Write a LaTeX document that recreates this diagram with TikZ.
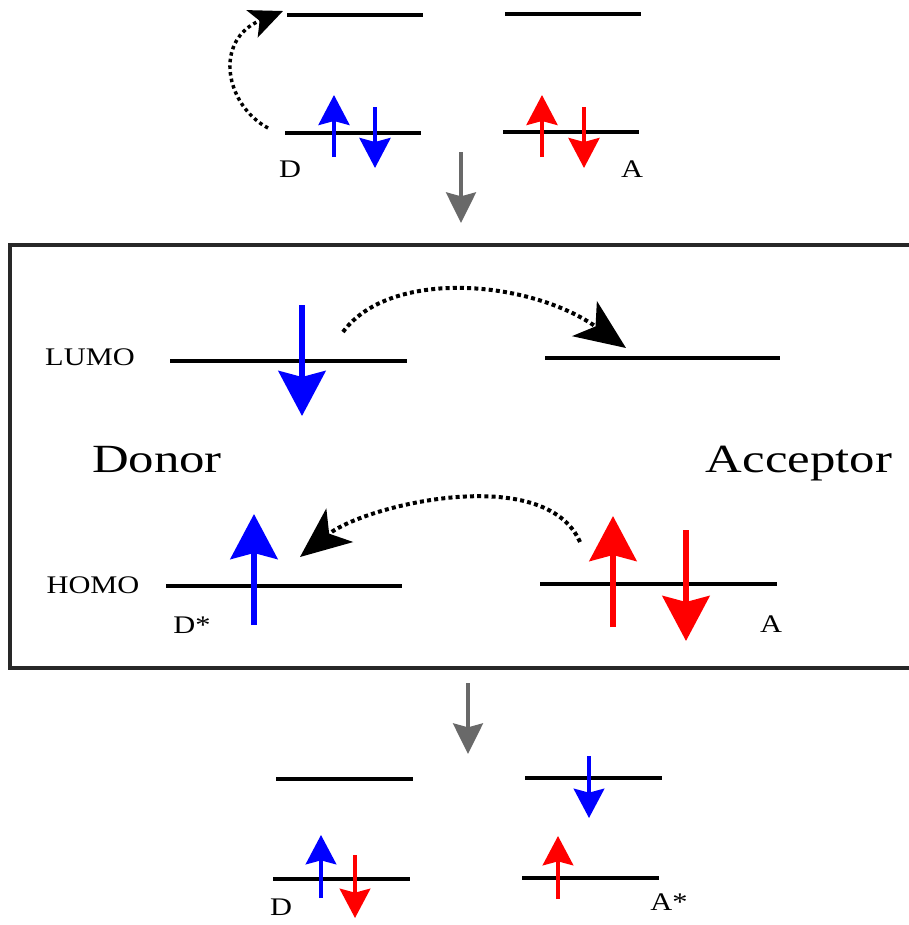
\documentclass[tikz,border=0pt]{standalone}
\usepackage{fontspec}
\setmainfont{Liberation Serif}
\usepackage{graphicx}
\usetikzlibrary{arrows.meta}
\definecolor{myblue}{RGB}{0,0,255}
\definecolor{myred}{RGB}{255,0,0}
\definecolor{mygray}{RGB}{105,105,105}
\definecolor{boxgray}{RGB}{40,40,40}
\tikzset{
  level/.style={line width=2.4pt, black},
  biglevel/.style={line width=3pt, black},
  smallspin/.style={line width=3pt, -{Stealth[length=22.5pt, width=23.25pt, inset=3pt]}},
  thinspin/.style={line width=2.4pt, -{Stealth[length=22pt, width=23pt, inset=3pt]}},
  bigspin/.style={line width=4.5pt, -{Stealth[length=33.75pt, width=35.25pt, inset=4.5pt]}},
  steparrow/.style={mygray, line width=2.4pt, -{Stealth[length=23pt, width=22.5pt, inset=3pt]}},
  hop/.style={line width=3pt, dash pattern=on 3pt off 2.4pt, -{Stealth[length=38pt, width=32pt, inset=10pt]}},
  smallhop/.style={line width=2.6pt, dash pattern=on 2.6pt off 2.4pt, -{Stealth[length=25pt, width=22pt, inset=6pt]}},
  lab/.style={inner sep=0pt, anchor=base, font=\fontsize{19pt}{22pt}\selectfont},
  big/.style={inner sep=0pt, anchor=base, font=\fontsize{30pt}{34pt}\selectfont}
}
\begin{document}
\begin{tikzpicture}[x=0.75pt, y=-0.75pt]
\useasboundingbox (0,0) rectangle (908,925);

% ---------- top section ----------
\coordinate (tLa1) at (287,15);  \coordinate (tLa2) at (423,15);
\coordinate (tLb1) at (505,14);  \coordinate (tLb2) at (641,14);
\coordinate (tHa1) at (285,133); \coordinate (tHa2) at (421,133);
\coordinate (tHb1) at (503,132); \coordinate (tHb2) at (639,132);
\draw[level] (tLa1) -- (tLa2);
\draw[level] (tLb1) -- (tLb2);
\draw[level] (tHa1) -- (tHa2);
\draw[level] (tHb1) -- (tHb2);

\coordinate (tbu1) at (334,157); \coordinate (tbu2) at (334,95);
\coordinate (tbd1) at (375,107); \coordinate (tbd2) at (375,168);
\coordinate (tru1) at (542,157); \coordinate (tru2) at (542,95);
\coordinate (trd1) at (584,107); \coordinate (trd2) at (584,168);
\draw[smallspin, myblue] (tbu1) -- (tbu2);
\draw[smallspin, myblue] (tbd1) -- (tbd2);
\draw[smallspin, myred] (tru1) -- (tru2);
\draw[smallspin, myred] (trd1) -- (trd2);

\coordinate (th1) at (268,128); \coordinate (th2) at (283,11);
\draw[smallhop] (th1) .. controls (225,105) and (213,40) .. (th2);

\node[lab] (tD) at (290,177) {\scalebox{1.2}[1]{D}};
\node[lab] (tA) at (632,177) {\scalebox{1.2}[1]{A}};

\coordinate (g1a) at (461,152); \coordinate (g1b) at (461,223);
\draw[steparrow] (g1a) -- (g1b);

% ---------- box ----------
\draw[boxgray, line width=3pt] (10,245) rectangle (930,668);

\coordinate (mLa1) at (170,361); \coordinate (mLa2) at (407,361);
\coordinate (mLb1) at (545,358); \coordinate (mLb2) at (780,358);
\coordinate (mHa1) at (166,586); \coordinate (mHa2) at (402,586);
\coordinate (mHb1) at (540,584); \coordinate (mHb2) at (777,584);
\draw[biglevel] (mLa1) -- (mLa2);
\draw[biglevel] (mLb1) -- (mLb2);
\draw[biglevel] (mHa1) -- (mHa2);
\draw[biglevel] (mHb1) -- (mHb2);

\coordinate (mbd1) at (302,305); \coordinate (mbd2) at (302,416);
\coordinate (mbu1) at (254,625); \coordinate (mbu2) at (254,514);
\coordinate (mru1) at (613,627); \coordinate (mru2) at (613,516);
\coordinate (mrd1) at (686,530); \coordinate (mrd2) at (686,641);
\draw[bigspin, myblue] (mbd1) -- (mbd2);
\draw[bigspin, myblue] (mbu1) -- (mbu2);
\draw[bigspin, myred] (mru1) -- (mru2);
\draw[bigspin, myred] (mrd1) -- (mrd2);

\coordinate (h1a) at (343,332); \coordinate (h1b) at (626,348);
\draw[hop] (h1a) .. controls (390,268) and (530,280) .. (h1b);
\coordinate (h2a) at (580,542); \coordinate (h2b) at (300,557);
\draw[hop] (h2a) .. controls (545,462) and (365,505) .. (h2b);

\node[lab] (lumo) at (90,365) {\scalebox{1.2}[1]{LUMO}};
\node[lab] (homo) at (93,593) {\scalebox{1.2}[1]{HOMO}};
\node[big] (donor) at (157,472) {\scalebox{1.27}[1]{Donor}};
\node[big] (acc) at (799,472) {\scalebox{1.27}[1]{Acceptor}};
\node[lab] (Dstar) at (192,633) {\scalebox{1.2}[1]{D*}};
\node[lab] (mA) at (771,632) {\scalebox{1.2}[1]{A}};

\coordinate (g2a) at (468,683); \coordinate (g2b) at (468,754);
\draw[steparrow] (g2a) -- (g2b);

% ---------- bottom section ----------
\coordinate (bLa1) at (276,779); \coordinate (bLa2) at (413,779);
\coordinate (bLb1) at (525,778); \coordinate (bLb2) at (662,778);
\coordinate (bHa1) at (273,879); \coordinate (bHa2) at (410,879);
\coordinate (bHb1) at (522,878); \coordinate (bHb2) at (659,878);
\draw[level] (bLa1) -- (bLa2);
\draw[level] (bLb1) -- (bLb2);
\draw[level] (bHa1) -- (bHa2);
\draw[level] (bHb1) -- (bHb2);

\coordinate (bbd1) at (589,756); \coordinate (bbd2) at (589,818);
\coordinate (bbu1) at (321,898); \coordinate (bbu2) at (321,835);
\coordinate (brd1) at (355,855); \coordinate (brd2) at (355,918);
\coordinate (bru1) at (558,899); \coordinate (bru2) at (558,836);
\draw[thinspin, myblue] (bbd1) -- (bbd2);
\draw[thinspin, myblue] (bbu1) -- (bbu2);
\draw[thinspin, myred] (brd1) -- (brd2);
\draw[thinspin, myred] (bru1) -- (bru2);

\node[lab] (bD) at (281,915) {\scalebox{1.2}[1]{D}};
\node[lab] (bA) at (669,910) {\scalebox{1.2}[1]{A*}};
\end{tikzpicture}
\end{document}
